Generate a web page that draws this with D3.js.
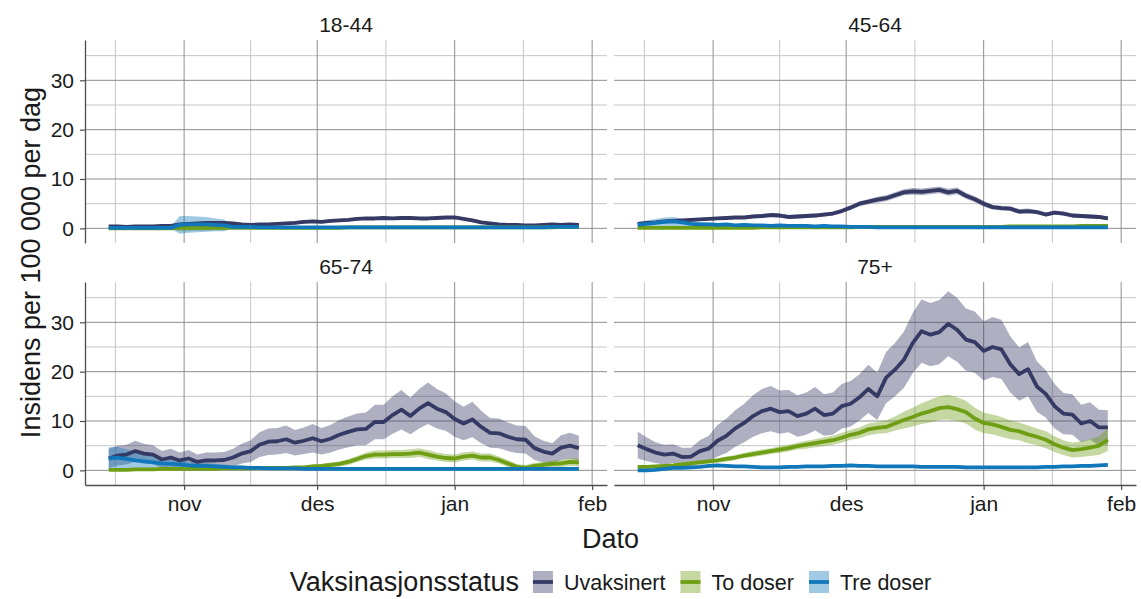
<!DOCTYPE html>
<html>
<head>
<meta charset="utf-8">
<script src="https://d3js.org/d3.v7.min.js"></script>
<style>
  body { margin: 0; background: #fff; }
  text { font-family: "Liberation Sans", Arial, sans-serif; fill: #1a1a1a; }
</style>
</head>
<body>
<div id="chart"></div>
<script>
// every second day from 15 Oct 2021
var dates = d3.timeDay.range(new Date(2021, 9, 15), new Date(2022, 0, 31), 2);
var period = [new Date(2021, 9, 15), new Date(2022, 0, 30)];

var ageGroups = ["18-44", "45-64", "65-74", "75+"];
var statuses = ["Uvaksinert", "To doser", "Tre doser"];
var monthTicks = [new Date(2021, 10, 1), new Date(2021, 11, 1), new Date(2022, 0, 1), new Date(2022, 1, 1)];
var monthLabels = ["nov", "des", "jan", "feb"];
var yTicks = [0, 10, 20, 30];

// 18-44
var uvak1844 = [0.4,0.4,0.3,0.4,0.4,0.4,0.5,0.5,0.8,0.9, 1.0,1.1,1.1,1.1,1.0,0.8,0.7,0.8,0.8,0.9,
  1.0,1.1,1.3,1.4,1.3,1.5,1.6,1.7,1.9,2.0, 2.0,2.1,2.0,2.1,2.1,2.0,2.0,2.1,2.2,2.2,
  1.9,1.6,1.2,1.0,0.8,0.7,0.7,0.6,0.6,0.7, 0.8,0.7,0.8,0.7];
var uvak1844Ci = [0.2,0.2,0.2,0.2,0.2,0.2,0.2,0.2,0.3,0.3, 0.3,0.3,0.3,0.3,0.3,0.3,0.2,0.2,0.2,0.3,
  0.3,0.3,0.3,0.3,0.3,0.3,0.3,0.3,0.3,0.3, 0.3,0.3,0.3,0.3,0.3,0.3,0.3,0.3,0.3,0.3,
  0.3,0.3,0.3,0.2,0.2,0.2,0.2,0.2,0.2,0.2, 0.2,0.2,0.2,0.2];
var todos1844 = [0,0,0,0,0,0,0,0,0.1,0.1, 0.1,0.1,0.1,0.1,0.1,0.1,0.1,0.1,0.1,0.1,
  0.1,0.1,0.1,0.1,0.1,0.1,0.1,0.2,0.2,0.2, 0.2,0.2,0.2,0.2,0.2,0.2,0.2,0.2,0.2,0.2,
  0.2,0.2,0.2,0.2,0.2,0.2,0.2,0.2,0.2,0.2, 0.2,0.3,0.3,0.3];
var todos1844Ci = [0.1,0.1,0.1,0.1,0.1,0.1,0.1,0.1,0.7,0.7, 0.6,0.6,0.5,0.5,0.1,0.1,0.1,0.1,0.1,0.1,
  0.1,0.1,0.1,0.1,0.1,0.1,0.1,0.1,0.1,0.1, 0.1,0.1,0.1,0.1,0.1,0.1,0.1,0.1,0.1,0.1,
  0.1,0.1,0.1,0.1,0.1,0.1,0.1,0.1,0.1,0.1, 0.1,0.1,0.1,0.1];
var tre1844 = [0.1,0.1,0.1,0.1,0.1,0.1,0.1,0.1,0.7,0.8, 0.8,0.8,0.7,0.6,0.3,0.3,0.3,0.2,0.2,0.2,
  0.2,0.2,0.2,0.2,0.2,0.2,0.2,0.2,0.2,0.2, 0.2,0.2,0.2,0.2,0.2,0.2,0.2,0.2,0.2,0.2,
  0.2,0.2,0.2,0.2,0.2,0.2,0.2,0.2,0.2,0.2, 0.3,0.3,0.3,0.3];
var tre1844Ci = [0.2,0.2,0.2,0.2,0.2,0.2,0.2,0.2,1.8,1.7, 1.6,1.5,1.3,1.2,0.3,0.2,0.2,0.15,0.15,0.15,
  0.15,0.15,0.15,0.15,0.15,0.15,0.15,0.15,0.15,0.15, 0.15,0.15,0.15,0.15,0.15,0.15,0.15,0.15,0.15,0.15,
  0.15,0.15,0.15,0.15,0.15,0.15,0.15,0.15,0.15,0.15, 0.15,0.15,0.15,0.15];

// 45-64
var uvak4564 = [0.9,1.1,1.2,1.4,1.5,1.6,1.7,1.8,1.9,2.0, 2.1,2.2,2.2,2.4,2.5,2.7,2.6,2.3,2.4,2.5,
  2.6,2.8,3.0,3.5,4.2,5.0,5.4,5.8,6.1,6.7, 7.3,7.5,7.4,7.6,7.8,7.3,7.6,6.6,5.9,5.0,
  4.3,4.1,4.0,3.4,3.5,3.3,2.8,3.2,3.0,2.6, 2.5,2.4,2.3,2.0];
var uvak4564Ci = [0.3,0.3,0.3,0.3,0.3,0.3,0.3,0.3,0.3,0.3, 0.3,0.3,0.3,0.3,0.4,0.4,0.4,0.4,0.4,0.4,
  0.4,0.4,0.4,0.4,0.5,0.5,0.5,0.6,0.6,0.6, 0.6,0.7,0.7,0.7,0.7,0.7,0.7,0.6,0.6,0.6,
  0.5,0.5,0.5,0.5,0.5,0.4,0.4,0.4,0.4,0.4, 0.4,0.4,0.4,0.4];
var todos4564 = [0.1,0.1,0.1,0.1,0.1,0.1,0.1,0.1,0.1,0.1, 0.1,0.1,0.1,0.1,0.2,0.2,0.2,0.2,0.2,0.2,
  0.2,0.2,0.2,0.2,0.2,0.3,0.3,0.3,0.3,0.3, 0.3,0.3,0.3,0.3,0.3,0.3,0.3,0.3,0.3,0.3,
  0.3,0.3,0.4,0.4,0.4,0.4,0.4,0.4,0.4,0.4, 0.5,0.5,0.5,0.5];
var todos4564Ci = [0.1,0.1,0.1,0.1,0.1,0.1,0.1,0.1,0.1,0.1, 0.1,0.1,0.1,0.1,0.1,0.1,0.1,0.1,0.1,0.1,
  0.1,0.1,0.1,0.1,0.1,0.1,0.1,0.1,0.1,0.1, 0.1,0.1,0.1,0.1,0.1,0.1,0.1,0.1,0.1,0.1,
  0.1,0.1,0.1,0.1,0.1,0.1,0.1,0.1,0.1,0.1, 0.2,0.2,0.2,0.2];
var tre4564 = [0.7,0.9,1.1,1.3,1.4,1.2,0.9,0.8,0.8,0.7, 0.8,0.6,0.7,0.6,0.6,0.5,0.6,0.5,0.5,0.5,
  0.4,0.5,0.4,0.4,0.3,0.3,0.3,0.2,0.2,0.2, 0.2,0.2,0.2,0.2,0.2,0.2,0.2,0.2,0.2,0.2,
  0.2,0.2,0.2,0.2,0.2,0.2,0.2,0.2,0.2,0.2, 0.2,0.2,0.2,0.2];
var tre4564Ci = [0.6,0.7,0.8,0.9,0.9,0.8,0.6,0.5,0.4,0.4, 0.3,0.3,0.3,0.3,0.3,0.3,0.3,0.2,0.2,0.2,
  0.2,0.2,0.2,0.2,0.15,0.15,0.15,0.15,0.15,0.15, 0.15,0.15,0.15,0.15,0.15,0.15,0.15,0.15,0.15,0.15,
  0.15,0.15,0.15,0.15,0.15,0.15,0.15,0.15,0.15,0.15, 0.15,0.15,0.15,0.15];

// 65-74
var uvak6574 = [2.4,3.0,3.2,3.9,3.4,3.2,2.2,2.6,2.0,2.4, 1.7,2.0,2.0,2.1,2.6,3.4,3.9,5.2,5.8,5.9,
  6.3,5.6,6.0,6.5,5.9,6.4,7.2,7.8,8.3,8.4, 9.8,9.8,11.2,12.3,11.0,12.5,13.6,12.5,11.8,10.4,
  9.5,10.3,8.8,7.6,7.5,6.8,6.3,6.2,4.5,3.8, 3.4,4.6,5.0,4.5];
var uvak6574Ci = [2.0,2.0,2.0,2.1,2.0,1.9,1.7,1.8,1.6,1.7, 1.5,1.6,1.6,1.6,1.8,2.0,2.2,2.5,2.7,2.7,
  2.8,2.6,2.7,2.9,2.7,2.8,3.0,3.1,3.2,3.3, 3.5,3.5,3.8,4.0,3.7,4.0,4.2,4.0,3.8,3.6,
  3.4,3.6,3.3,3.0,3.0,2.9,2.8,2.8,2.4,2.2, 2.1,2.5,2.6,2.5];
var todos6574 = [0.1,0.1,0.1,0.2,0.2,0.2,0.3,0.3,0.3,0.3, 0.3,0.3,0.3,0.4,0.4,0.4,0.4,0.5,0.5,0.5,
  0.5,0.6,0.6,0.8,0.9,1.1,1.3,1.7,2.3,2.9, 3.2,3.2,3.3,3.3,3.4,3.6,3.2,2.8,2.5,2.4,
  2.8,3.0,2.6,2.6,2.1,1.4,0.7,0.5,0.9,1.1, 1.3,1.4,1.7,1.6];
var todos6574Ci = [0.2,0.2,0.2,0.2,0.2,0.2,0.2,0.2,0.2,0.2, 0.2,0.2,0.2,0.2,0.2,0.2,0.2,0.2,0.2,0.2,
  0.3,0.3,0.3,0.4,0.4,0.5,0.5,0.6,0.6,0.7, 0.8,0.8,0.8,0.8,0.9,0.9,0.9,0.8,0.8,0.8,
  0.8,0.8,0.8,0.8,0.7,0.7,0.6,0.6,0.6,0.6, 0.7,0.7,0.8,0.8];
var tre6574 = [2.4,2.6,2.3,2.0,1.8,1.6,1.4,1.3,1.2,1.0, 0.9,0.9,0.8,0.7,0.6,0.6,0.5,0.5,0.4,0.4,
  0.4,0.4,0.3,0.3,0.3,0.3,0.3,0.3,0.3,0.3, 0.3,0.3,0.3,0.3,0.3,0.3,0.3,0.3,0.3,0.3,
  0.3,0.3,0.3,0.3,0.3,0.3,0.3,0.3,0.3,0.3, 0.3,0.3,0.3,0.3];
var tre6574Ci = [2.3,2.2,2.0,1.8,1.5,1.3,1.1,1.0,0.9,0.8, 0.7,0.6,0.5,0.5,0.4,0.4,0.3,0.3,0.3,0.3,
  0.2,0.2,0.2,0.2,0.2,0.2,0.2,0.2,0.2,0.2, 0.2,0.2,0.2,0.2,0.2,0.2,0.2,0.2,0.2,0.2,
  0.2,0.2,0.2,0.2,0.2,0.2,0.2,0.2,0.2,0.2, 0.2,0.2,0.2,0.2];

// 75+
var uvak75 = [5.1,4.3,3.6,3.2,3.4,2.7,2.8,3.9,4.4,6.0, 7.0,8.5,9.6,11.0,12.0,12.5,11.8,12.0,11.0,11.5,
  12.5,11.2,11.5,13.0,13.5,14.8,16.5,15.0,18.8,20.4, 22.4,25.8,28.2,27.5,28.0,29.7,28.5,26.5,26.0,24.2,
  25.0,24.5,21.5,19.5,20.5,17.0,15.5,13.0,11.5,11.3, 9.5,10.0,8.7,8.7];
var uvak75Ci = [2.7,2.4,2.1,2.0,1.9,1.9,1.8,2.2,2.6,3.2, 3.5,3.7,3.9,4.2,4.5,4.6,4.4,4.3,4.2,4.3,
  4.4,4.2,4.3,4.5,4.6,4.7,4.9,4.8,5.2,5.4, 5.7,6.1,6.4,6.4,6.5,6.6,6.5,6.3,6.2,6.0,
  6.1,6.0,5.7,5.4,5.5,5.1,4.8,4.5,4.2,4.1, 3.8,3.8,3.6,3.5];
var todos75 = [0.7,0.7,0.8,0.9,1.0,1.2,1.4,1.6,1.8,2.0, 2.3,2.6,3.0,3.3,3.6,3.9,4.2,4.5,4.9,5.2,
  5.5,5.8,6.1,6.6,7.2,7.6,8.3,8.6,8.8,9.5, 10.2,10.8,11.5,12.0,12.6,12.8,12.4,11.8,10.5,9.6,
  9.3,8.8,8.2,7.9,7.3,6.8,6.2,5.3,4.6,4.1, 4.3,4.6,5.0,6.2];
var todos75Ci = [0.3,0.3,0.3,0.3,0.3,0.3,0.4,0.4,0.4,0.4, 0.5,0.5,0.5,0.6,0.6,0.6,0.7,0.7,0.7,0.8,
  0.8,0.9,0.9,1.0,1.0,1.1,1.2,1.2,1.3,1.4, 1.7,1.9,2.1,2.3,2.4,2.5,2.4,2.3,2.2,2.1,
  2.0,2.0,1.9,1.8,1.8,1.7,1.7,1.6,1.5,1.5, 1.6,1.7,1.9,2.3];
var tre75 = [0.0,0.0,0.1,0.3,0.5,0.5,0.6,0.7,0.9,1.0, 0.9,0.8,0.8,0.7,0.6,0.6,0.6,0.7,0.7,0.8,
  0.8,0.8,0.9,0.9,1.0,0.9,0.9,0.8,0.8,0.8, 0.8,0.8,0.7,0.7,0.7,0.7,0.7,0.6,0.6,0.6,
  0.6,0.6,0.6,0.6,0.6,0.6,0.7,0.7,0.8,0.8, 0.9,0.9,1.0,1.1];
var tre75Ci = [0.2,0.2,0.2,0.2,0.2,0.2,0.2,0.2,0.3,0.3, 0.3,0.3,0.3,0.3,0.3,0.3,0.3,0.3,0.3,0.3,
  0.3,0.3,0.3,0.3,0.3,0.3,0.3,0.3,0.3,0.3, 0.3,0.3,0.3,0.3,0.3,0.3,0.3,0.3,0.3,0.3,
  0.3,0.3,0.3,0.3,0.3,0.3,0.3,0.3,0.3,0.3, 0.3,0.3,0.3,0.3];

var seriesByAge = {
  "18-44": [[uvak1844, uvak1844Ci], [todos1844, todos1844Ci], [tre1844, tre1844Ci]],
  "45-64": [[uvak4564, uvak4564Ci], [todos4564, todos4564Ci], [tre4564, tre4564Ci]],
  "65-74": [[uvak6574, uvak6574Ci], [todos6574, todos6574Ci], [tre6574, tre6574Ci]],
  "75+": [[uvak75, uvak75Ci], [todos75, todos75Ci], [tre75, tre75Ci]],
};

var colors = ["#353a65", "#6e9e14", "#1177bb"];

var width = 1141;
var height = 599;
var panelW = 522;
var panelH = 203;
var panelPos = [
  { x: 85, y: 40 },
  { x: 614, y: 40 },
  { x: 85, y: 282 },
  { x: 614, y: 282 },
];

var svg = d3.select("#chart").append("svg").attr("width", width).attr("height", height);

// build rows {date, mean, lo, hi}
var panels = ageGroups.map(function (age) {
  return {
    age: age,
    series: seriesByAge[age].map(function (s, si) {
      return {
        status: statuses[si],
        color: colors[si],
        rows: dates.map(function (d, i) {
          return { date: d, mean: s[0][i], lo: s[0][i] - s[1][i], hi: s[0][i] + s[1][i] };
        }),
      };
    }),
  };
});

// ggplot style 5% expansion
var span = period[1] - period[0];
var x = d3
  .scaleTime()
  .domain([new Date(+period[0] - span * 0.05), new Date(+period[1] + span * 0.05)])
  .range([0, panelW]);

var allRows = [];
panels.forEach(function (p) {
  p.series.forEach(function (s) {
    allRows = allRows.concat(s.rows);
  });
});
var yMin = d3.min(allRows, function (r) { return r.lo; });
var yMax = d3.max(allRows, function (r) { return r.hi; });
var yPad = (yMax - yMin) * 0.05;
var y = d3.scaleLinear().domain([yMin - yPad, yMax + yPad]).range([panelH, 0]);

// minor breaks halfway between month starts
var monthEdges = [new Date(2021, 9, 1)].concat(monthTicks);
var xMinor = [];
for (var i = 1; i < monthEdges.length; i++) {
  xMinor.push(new Date((+monthEdges[i - 1] + +monthEdges[i]) / 2));
}
var yMinor = [5, 15, 25, 35].filter(function (v) { return v < y.domain()[1]; });

var area = d3
  .area()
  .x(function (d) { return x(d.date); })
  .y0(function (d) { return y(d.lo); })
  .y1(function (d) { return y(d.hi); });

var line = d3
  .line()
  .x(function (d) { return x(d.date); })
  .y(function (d) { return y(d.mean); });

panels.forEach(function (p, pi) {
  var pos = panelPos[pi];
  var g = svg.append("g").attr("transform", "translate(" + pos.x + "," + pos.y + ")");

  g.selectAll(".minor-y")
    .data(yMinor)
    .enter()
    .append("line")
    .attr("x1", 0).attr("x2", panelW)
    .attr("y1", function (d) { return y(d); })
    .attr("y2", function (d) { return y(d); })
    .attr("stroke", "#c6c6c6").attr("stroke-width", 1);

  g.selectAll(".minor-x")
    .data(xMinor)
    .enter()
    .append("line")
    .attr("y1", 0).attr("y2", panelH)
    .attr("x1", function (d) { return x(d); })
    .attr("x2", function (d) { return x(d); })
    .attr("stroke", "#c6c6c6").attr("stroke-width", 1);

  g.selectAll(".major-y")
    .data(yTicks)
    .enter()
    .append("line")
    .attr("x1", 0).attr("x2", panelW)
    .attr("y1", function (d) { return y(d); })
    .attr("y2", function (d) { return y(d); })
    .attr("stroke", "#8e8e8e").attr("stroke-width", 1);

  g.selectAll(".major-x")
    .data(monthTicks)
    .enter()
    .append("line")
    .attr("y1", 0).attr("y2", panelH)
    .attr("x1", function (d) { return x(d); })
    .attr("x2", function (d) { return x(d); })
    .attr("stroke", "#8e8e8e").attr("stroke-width", 1);

  g.selectAll(".ribbon")
    .data(p.series)
    .enter()
    .append("path")
    .attr("d", function (s) { return area(s.rows); })
    .attr("fill", function (s) { return s.color; })
    .attr("fill-opacity", 0.4)
    .attr("stroke", "none");

  g.selectAll(".line")
    .data(p.series)
    .enter()
    .append("path")
    .attr("d", function (s) { return line(s.rows); })
    .attr("fill", "none")
    .attr("stroke", function (s) { return s.color; })
    .attr("stroke-width", 3.8)
    .attr("stroke-linejoin", "round");

  g.append("text")
    .attr("x", panelW / 2)
    .attr("y", -8)
    .attr("text-anchor", "middle")
    .style("font-size", "21px")
    .text(p.age);

  if (pi % 2 === 0) {
    var yAxis = g
      .append("g")
      .call(d3.axisLeft(y).tickValues(yTicks).tickSize(5).tickPadding(6).tickSizeOuter(0));
    styleAxis(yAxis);
  }
  if (pi >= 2) {
    var xAxis = g
      .append("g")
      .attr("transform", "translate(0," + panelH + ")")
      .call(
        d3
          .axisBottom(x)
          .tickValues(monthTicks)
          .tickFormat(function (d, i) { return monthLabels[i]; })
          .tickSize(5)
          .tickPadding(6)
          .tickSizeOuter(0)
      );
    styleAxis(xAxis);
  }
});

function styleAxis(ax) {
  ax.select(".domain").attr("stroke", "#4d4d4d").attr("stroke-width", 1.3);
  ax.selectAll(".tick line").attr("stroke", "#4d4d4d").attr("stroke-width", 1.2);
  ax.selectAll(".tick text")
    .style("font-size", "21px")
    .style("font-family", '"Liberation Sans", Arial, sans-serif')
    .attr("fill", "#1a1a1a");
}

svg.append("text")
  .attr("transform", "translate(40," + (40 + 485) / 2 + ") rotate(-90)")
  .attr("text-anchor", "middle")
  .style("font-size", "27px")
  .text("Insidens per 100 000 per dag");

svg.append("text")
  .attr("x", (85 + 1136) / 2)
  .attr("y", 548)
  .attr("text-anchor", "middle")
  .style("font-size", "27px")
  .text("Dato");

// legend
var legend = svg.append("g");
var legendY = 582;
var cursor = 0;
var legTitle = legend.append("text")
  .attr("x", 0)
  .attr("y", legendY + 9)
  .style("font-size", "27px")
  .text("Vaksinasjonsstatus");
cursor = legTitle.node().getComputedTextLength() + 14;

statuses.forEach(function (st, si) {
  var key = legend.append("g").attr("transform", "translate(" + cursor + "," + (legendY - 11) + ")");
  key.append("rect").attr("width", 20).attr("height", 22).attr("fill", "#fff");
  key.append("rect").attr("width", 20).attr("height", 22).attr("fill", colors[si]).attr("fill-opacity", 0.4);
  key.append("line")
    .attr("x1", 0).attr("x2", 20)
    .attr("y1", 11).attr("y2", 11)
    .attr("stroke", colors[si])
    .attr("stroke-width", 3.8);
  cursor += 20 + 11;
  var lab = legend.append("text")
    .attr("x", cursor)
    .attr("y", legendY + 8)
    .style("font-size", "21.5px")
    .text(st);
  cursor += lab.node().getComputedTextLength() + 15;
});
cursor -= 15;
legend.attr("transform", "translate(" + ((85 + 1136) / 2 - cursor / 2) + ",0)");
</script>
</body>
</html>
